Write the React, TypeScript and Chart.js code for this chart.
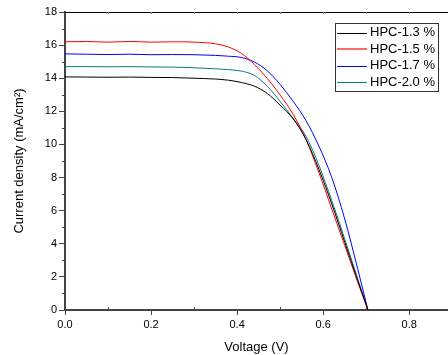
import React, { useEffect, useRef } from "react";
import { Chart, registerables } from "chart.js";

Chart.register(...registerables);

const voltages = [0, 0.05, 0.1, 0.15, 0.2, 0.25, 0.3, 0.35, 0.38, 0.41, 0.44, 0.47, 0.5, 0.53, 0.56, 0.59, 0.62, 0.65, 0.68, 0.704];

const hpc13 = [14.08, 14.07, 14.06, 14.07, 14.05, 14.04, 14.0, 13.95, 13.88, 13.74, 13.52, 13.08, 12.37, 11.55, 10.3, 8.5, 6.4, 4.1, 1.8, 0];
const hpc15 = [16.2, 16.22, 16.18, 16.22, 16.18, 16.2, 16.18, 16.08, 15.88, 15.5, 14.83, 13.99, 12.98, 11.83, 10.3, 8.3, 6.1, 3.9, 1.7, 0];
const hpc17 = [15.47, 15.45, 15.43, 15.45, 15.42, 15.43, 15.42, 15.38, 15.33, 15.25, 14.98, 14.45, 13.62, 12.61, 11.44, 9.9, 8.0, 5.5, 2.5, 0];
const hpc20 = [14.7, 14.7, 14.69, 14.7, 14.68, 14.67, 14.63, 14.57, 14.52, 14.43, 14.17, 13.52, 12.6, 11.58, 10.5, 8.75, 6.6, 4.3, 1.9, 0];

const seriesLabels = ["HPC-1.3 %", "HPC-1.5 %", "HPC-1.7 %", "HPC-2.0 %"];
const seriesColors = ["#000000", "#ff0000", "#0000ff", "#008080"];
const legendLineColors = ["#000000", "#ff6b6b", "#0000ff", "#008080"];
const legendLineWidths = [1, 2, 1, 1];

const xTickValues = [0, 0.2, 0.4, 0.6, 0.8];
const xMinorValues = [0.1, 0.3, 0.5, 0.7];
const xTopTickValues = [0.1, 0.2, 0.3, 0.4, 0.5, 0.6, 0.7, 0.8];
const yMinorValues = [1, 3, 5, 7, 9, 11, 13, 15, 17];

const FONT = "'Liberation Sans', Arial, sans-serif";

const decorPlugin = {
  id: "decor",
  afterDraw(chart: any) {
    const { ctx, chartArea, scales } = chart;
    const x = scales.x;
    const y = scales.y;
    ctx.save();
    // top border
    ctx.strokeStyle = "#000";
    ctx.lineWidth = 1;
    ctx.beginPath();
    ctx.moveTo(chartArea.left, chartArea.top + 0.5);
    ctx.lineTo(chartArea.right, chartArea.top + 0.5);
    ctx.stroke();
    // top ticks
    ctx.strokeStyle = "#888";
    ctx.beginPath();
    xTopTickValues.forEach((v) => {
      const px = Math.round(x.getPixelForValue(v)) + 0.5;
      ctx.moveTo(px, chartArea.top);
      ctx.lineTo(px, chartArea.top + 2);
    });
    ctx.stroke();
    // minor x ticks (inside)
    ctx.strokeStyle = "#444";
    ctx.beginPath();
    xMinorValues.forEach((v) => {
      const px = Math.round(x.getPixelForValue(v)) + 0.5;
      ctx.moveTo(px, chartArea.bottom);
      ctx.lineTo(px, chartArea.bottom - 3);
    });
    ctx.stroke();
    // minor y ticks (outside)
    ctx.beginPath();
    yMinorValues.forEach((v) => {
      const py = Math.round(y.getPixelForValue(v)) + 0.5;
      ctx.moveTo(chartArea.left, py);
      ctx.lineTo(chartArea.left - 3, py);
    });
    ctx.stroke();

    // legend
    const bx = 335, by = 23, bw = 103, bh = 68;
    ctx.fillStyle = "#fff";
    ctx.fillRect(bx, by, bw, bh);
    ctx.strokeStyle = "#333";
    ctx.lineWidth = 1;
    ctx.strokeRect(bx + 0.5, by + 0.5, bw, bh);
    ctx.font = `13px ${FONT}`;
    ctx.textBaseline = "middle";
    ctx.textAlign = "left";
    chart.data.datasets.forEach((ds: any, i: number) => {
      const cy = by + 9.5 + i * 16.6;
      ctx.strokeStyle = legendLineColors[i];
      ctx.lineWidth = legendLineWidths[i];
      const ly = legendLineWidths[i] === 2 ? Math.round(cy) : Math.round(cy) + 0.5;
      ctx.beginPath();
      ctx.moveTo(bx + 2, ly);
      ctx.lineTo(bx + 32, ly);
      ctx.stroke();
      ctx.fillStyle = "#000";
      ctx.fillText(ds.label, bx + 35, cy);
    });
    ctx.restore();
  },
};

export default function App() {
  const canvasRef = useRef<HTMLCanvasElement | null>(null);

  useEffect(() => {
    if (!canvasRef.current) return;
    const seriesList = [hpc13, hpc15, hpc17, hpc20];
    const chart = new Chart(canvasRef.current, {
      type: "line",
      data: {
        datasets: seriesList.map((s, i) => ({
          label: seriesLabels[i],
          data: voltages.map((v, j) => ({ x: v, y: s[j] })),
          borderColor: seriesColors[i],
          backgroundColor: seriesColors[i],
          borderWidth: 1,
          pointRadius: 0,
          fill: false,
          cubicInterpolationMode: "monotone" as const,
        })),
      },
      options: {
        animation: false,
        responsive: false,
        devicePixelRatio: 1,
        layout: { padding: { top: 12, right: 0, left: 0, bottom: 0 } },
        plugins: {
          legend: { display: false },
          tooltip: { enabled: false },
        },
        scales: {
          x: {
            type: "linear",
            min: 0,
            max: 0.89,
            afterBuildTicks: (scale: any) => {
              scale.ticks = xTickValues.map((v) => ({ value: v }));
            },
            afterFit: (scale: any) => {
              scale.height = 45;
            },
            ticks: {
              color: "#000",
              font: { family: FONT, size: 11 },
              padding: 3,
              maxRotation: 0,
              callback: (v: any) => Number(v).toFixed(1),
            },
            grid: { drawOnChartArea: false, drawTicks: true, tickLength: 5, color: "#444", lineWidth: 1 },
            border: { display: true, color: "#444", width: 2 },
            title: {
              display: true,
              text: "Voltage (V)",
              color: "#000",
              font: { family: FONT, size: 13 },
              padding: { top: 0, bottom: 0 },
            },
          },
          y: {
            type: "linear",
            min: 0,
            max: 18,
            afterFit: (scale: any) => {
              scale.width = 65;
            },
            ticks: {
              stepSize: 2,
              color: "#000",
              font: { family: FONT, size: 11 },
              padding: 2,
            },
            grid: { drawOnChartArea: false, drawTicks: true, tickLength: 6, color: "#444", lineWidth: 1 },
            border: { display: true, color: "#444", width: 2 },
            title: {
              display: true,
              text: "Current density (mA/cm²)",
              color: "#000",
              font: { family: FONT, size: 13 },
              padding: { top: 12, bottom: 0 },
            },
          },
        },
      },
      plugins: [decorPlugin],
    });
    return () => chart.destroy();
  }, []);

  return (
    <div style={{ position: "fixed", left: 0, top: 0, width: 448, height: 355, background: "#fff" }}>
      <canvas ref={canvasRef} width={448} height={355} style={{ width: 448, height: 355, display: "block" }} />
    </div>
  );
}
